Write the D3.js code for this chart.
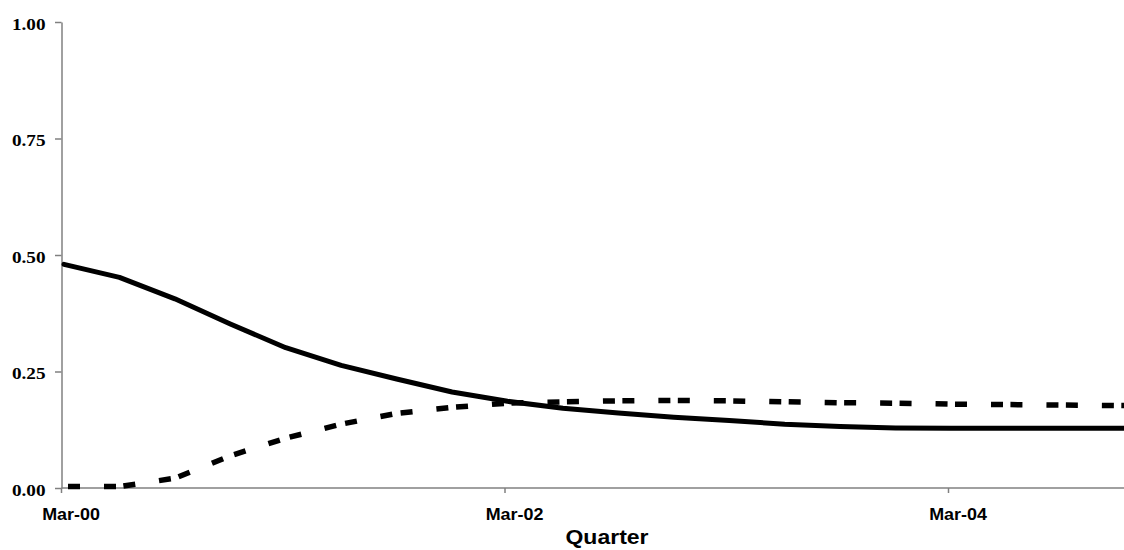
<!DOCTYPE html>
<html>
<head>
<meta charset="utf-8">
<script src="https://cdn.jsdelivr.net/npm/d3@7"></script>
<style>
html,body{margin:0;padding:0;background:#fff;}
svg{display:block;}
</style>
</head>
<body>
<svg id="chart" width="1124" height="550"></svg>
<script>
// Quarters (category index = position)
const quarters = ["Mar-00","Jun-00","Sep-00","Dec-00","Mar-01","Jun-01","Sep-01","Dec-01",
                  "Mar-02","Jun-02","Sep-02","Dec-02","Mar-03","Jun-03","Sep-03","Dec-03",
                  "Mar-04","Jun-04","Sep-04","Dec-04","Mar-05"];
const solidValues = [0.480,0.452,0.406,0.352,0.301,0.263,0.234,0.206,0.186,0.171,0.161,0.152,
                     0.145,0.137,0.132,0.129,0.128,0.128,0.128,0.128,0.128];
const dashedValues = [0.003,0.003,0.021,0.069,0.107,0.137,0.160,0.173,0.182,0.185,0.187,0.188,
                      0.187,0.185,0.183,0.182,0.180,0.179,0.178,0.177,0.176];
const xTickLabels = ["Mar-00","Mar-02","Mar-04"];
const yTickValues = [0,0.25,0.5,0.75,1.0];
const xTitle = "Quarter";

const svg = d3.select("#chart");
const x = d3.scaleLinear().domain([0,16]).range([64,951]);
const y = d3.scaleLinear().domain([0,1]).range([488,22]);
const axisColor = "#808080";
const axisX = x(0) - 2.5;

// Y axis
const yAxis = svg.append("g").attr("transform",`translate(${axisX},0)`)
  .call(d3.axisLeft(y).tickValues(yTickValues).tickSize(6.5).tickSizeOuter(0).tickFormat(""));
yAxis.select(".domain").attr("stroke",axisColor).attr("stroke-width",1.5);
yAxis.selectAll(".tick line").attr("stroke",axisColor).attr("stroke-width",1.5);

svg.append("g").selectAll("text").data(yTickValues).join("text")
  .attr("transform",d=>`translate(45.5,${y(d)+7.5}) scale(1.13,1)`)
  .attr("text-anchor","end")
  .attr("font-family","'Liberation Serif','Times New Roman',serif")
  .attr("font-weight","bold").attr("font-size",17).attr("fill","#000")
  .text(d=>d3.format(".2f")(d));

// X axis
const xIdx = xTickLabels.map(l=>quarters.indexOf(l));
svg.append("line").attr("x1",axisX).attr("x2",1124).attr("y1",y(0)).attr("y2",y(0))
  .attr("stroke",axisColor).attr("stroke-width",1.5);
svg.append("g").selectAll("line").data(xIdx).join("line")
  .attr("x1",d=>x(d)-2.5).attr("x2",d=>x(d)-2.5).attr("y1",y(0)).attr("y2",y(0)+5)
  .attr("stroke",axisColor).attr("stroke-width",1.5);
svg.append("g").selectAll("text").data(xIdx).join("text")
  .attr("transform",d=>`translate(${x(d)+7},520) scale(1.12,1)`)
  .attr("text-anchor","middle")
  .attr("font-family","'Liberation Sans',Arial,sans-serif")
  .attr("font-weight","bold").attr("font-size",16).attr("fill","#000")
  .text(d=>quarters[d]);

svg.append("text")
  .attr("transform","translate(607,544) scale(1.15,1)")
  .attr("text-anchor","middle")
  .attr("font-family","'Liberation Sans',Arial,sans-serif")
  .attr("font-weight","bold").attr("font-size",20).attr("fill","#000")
  .text(xTitle);

// Solid line
const line = d3.line().x((d,i)=>x(i)).y(d=>y(d));
svg.append("path").datum(solidValues).attr("d",line)
  .attr("fill","none").attr("stroke","#000").attr("stroke-width",5)
  .attr("stroke-linejoin","round").attr("stroke-linecap","round");

// Dashed line, drawn segment by segment
const segs = d3.pairs(dashedValues.map((v,i)=>[i,v]));
svg.append("g").selectAll("line").data(segs).join("line")
  .attr("x1",d=>x(d[0][0])).attr("y1",d=>y(d[0][1]))
  .attr("x2",d=>x(d[1][0])).attr("y2",d=>y(d[1][1]))
  .attr("stroke","#000").attr("stroke-width",5.5)
  .attr("stroke-dasharray","12 24").attr("stroke-dashoffset",32);
</script>
</body>
</html>
